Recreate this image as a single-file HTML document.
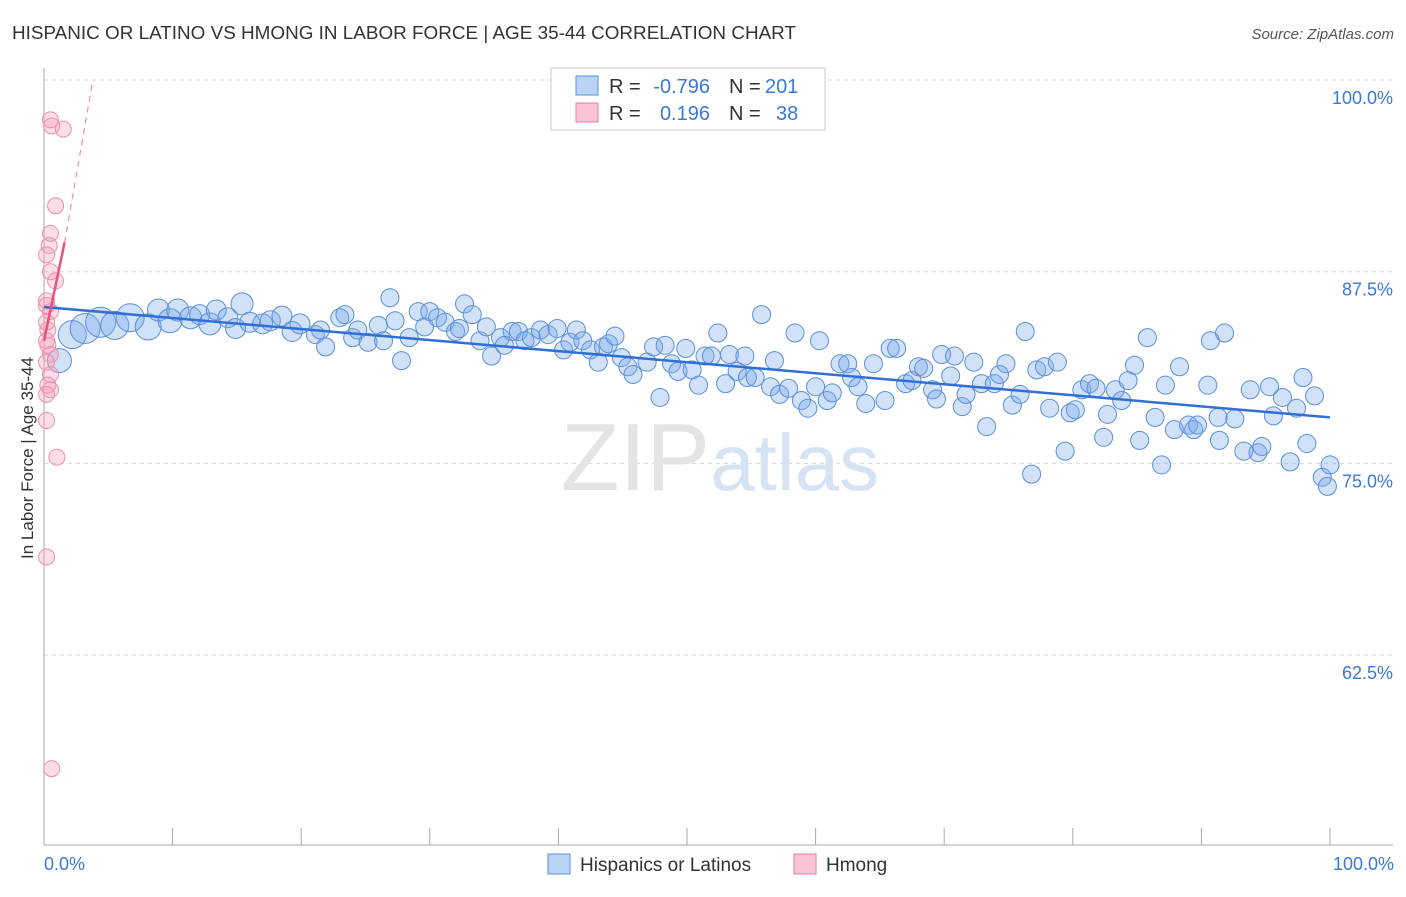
<!DOCTYPE html>
<html><head><meta charset="utf-8"><style>
body{margin:0;background:#fff;font-family:"Liberation Sans",sans-serif;}
svg text{font-family:"Liberation Sans",sans-serif;}
</style></head><body>
<svg width="1406" height="892" xmlns="http://www.w3.org/2000/svg">
<text x="12" y="39" font-size="18" fill="#333" textLength="784" lengthAdjust="spacingAndGlyphs">HISPANIC OR LATINO VS HMONG IN LABOR FORCE | AGE 35-44 CORRELATION CHART</text>
<text x="1394" y="39" font-size="15" fill="#555" text-anchor="end" font-style="italic">Source: ZipAtlas.com</text>
<g id="grid"></g>
<text x="720" y="490" font-size="96" text-anchor="middle" fill="#e4e4e4" font-family="Liberation Serif">ZIP<tspan fill="#d6e3f3" font-family="Liberation Sans" font-size="80">atlas</tspan></text>
<g id="marks"></g>
<text transform="translate(33,458) rotate(-90)" font-size="17" fill="#333" text-anchor="middle">In Labor Force | Age 35-44</text>
<text x="44" y="870" font-size="18" fill="#3a78d6">0.0%</text>
<text x="1394" y="870" font-size="18" fill="#3a78d6" text-anchor="end">100.0%</text>
<g>
<rect x="551" y="68" width="274" height="62" fill="#fff" stroke="#ccc"/>
<rect x="576" y="76" width="22" height="19" fill="#b9d3f5" stroke="#5a8fdb"/>
<text x="609" y="93" font-size="20" fill="#333">R =</text>
<text x="710" y="93" font-size="20" fill="#3a78d6" text-anchor="end">-0.796</text>
<text x="729" y="93" font-size="20" fill="#333">N =</text>
<text x="765" y="93" font-size="20" fill="#3a78d6">201</text>
<rect x="576" y="103" width="22" height="19" fill="#f9c4d2" stroke="#e77fa0"/>
<text x="609" y="120" font-size="20" fill="#333">R =</text>
<text x="710" y="120" font-size="20" fill="#3a78d6" text-anchor="end">0.196</text>
<text x="729" y="120" font-size="20" fill="#333">N =</text>
<text x="776" y="120" font-size="20" fill="#3a78d6">38</text>
</g>
<g>
<rect x="548" y="854" width="22" height="20" fill="#b9d3f5" stroke="#5a8fdb"/>
<text x="580" y="871" font-size="19" fill="#333">Hispanics or Latinos</text>
<rect x="794" y="854" width="22" height="20" fill="#f9c4d2" stroke="#e77fa0"/>
<text x="826" y="871" font-size="19" fill="#333">Hmong</text>
</g>
</svg>
<script>
const yTicks=[100,87.5,75,62.5];
const yTickLabels=["100.0%","87.5%","75.0%","62.5%"];
const xTicks=[0,10,20,30,40,50,60,70,80,90,100];
const blueX=[1.2,2.2,3.2,4.4,5.5,6.7,8.1,8.9,9.8,10.4,11.4,12.1,12.9,13.4,14.3,14.9,15.4,16.0,17.0,17.6,18.5,19.3,19.9,21.1,21.5,21.9,23.0,23.4,24.0,24.4,25.2,26.0,26.4,26.9,27.3,27.8,28.4,29.1,29.6,30.0,30.6,31.2,32.0,32.3,32.7,33.3,33.9,34.4,34.8,35.5,35.8,36.4,36.9,37.4,37.9,38.6,39.2,39.9,40.4,40.9,41.4,41.9,42.5,43.1,43.5,43.9,44.4,44.9,45.4,45.8,46.9,47.4,47.9,48.3,48.8,49.3,49.9,50.4,50.9,51.4,51.9,52.4,53.0,53.3,53.9,54.5,54.7,55.3,55.8,56.5,56.8,57.2,57.9,58.4,58.9,59.4,60.0,60.3,60.9,61.3,61.9,62.5,62.8,63.3,63.9,64.5,65.4,65.8,66.3,67.0,67.5,68.0,68.4,69.1,69.4,69.8,70.5,70.8,71.4,71.7,72.3,72.9,73.3,73.9,74.3,74.8,75.3,75.9,76.3,76.8,77.2,77.8,78.2,78.8,79.4,79.8,80.2,80.7,81.3,81.8,82.4,82.7,83.3,83.8,84.3,84.8,85.2,85.8,86.4,86.9,87.2,87.9,88.3,89.0,89.4,89.7,90.5,90.7,91.3,91.4,91.8,92.6,93.3,93.8,94.4,94.7,95.3,95.6,96.3,96.9,97.4,97.9,98.2,98.8,99.4,99.8,100.0];
const blueY=[81.7,83.4,83.8,84.2,84.0,84.5,83.9,85.0,84.3,85.0,84.5,84.7,84.1,85.0,84.5,83.8,85.4,84.2,84.1,84.3,84.6,83.6,84.1,83.4,83.7,82.6,84.5,84.7,83.2,83.7,82.9,84.0,83.0,85.8,84.3,81.7,83.2,84.9,83.9,84.9,84.5,84.2,83.6,83.8,85.4,84.7,83.0,83.9,82.0,83.2,82.7,83.6,83.6,83.0,83.2,83.7,83.4,83.8,82.4,82.9,83.7,83.0,82.4,81.6,82.6,82.8,83.3,81.9,81.3,80.8,81.6,82.6,79.3,82.7,81.5,81.0,82.5,81.1,80.1,82.0,82.0,83.5,80.2,82.1,81.0,82.0,80.6,80.6,84.7,80.0,81.7,79.5,79.9,83.5,79.1,78.6,80.0,83.0,79.1,79.6,81.5,81.5,80.6,80.0,78.9,81.5,79.1,82.5,82.5,80.2,80.4,81.3,81.2,79.8,79.2,82.1,80.7,82.0,78.7,79.5,81.6,80.2,77.4,80.2,80.8,81.5,78.8,79.5,83.6,74.3,81.1,81.3,78.6,81.6,75.8,78.3,78.5,79.8,80.2,79.9,76.7,78.2,79.8,79.1,80.4,81.4,76.5,83.2,78.0,74.9,80.1,77.2,81.3,77.5,77.2,77.5,80.1,83.0,78.0,76.5,83.5,77.9,75.8,79.8,75.7,76.1,80.0,78.1,79.3,75.1,78.6,80.6,76.3,79.4,74.1,73.5,74.9];
const blueWeight=[12,14,15,15,14,14,13,11,12,11,11,10,11,10,10,10,11,10,10,10,10,10,10,9];
const pinkX=[0.6,1.5,0.9,0.5,0.4,0.2,0.5,0.9,0.2,0.5,0.2,0.3,0.2,0.5,0.2,0.5,0.3,0.5,0.2,0.2,1.0,0.2,0.6,0.3,0.2,0.5];
const pinkY=[97.0,96.8,91.8,90.0,89.2,88.6,87.5,86.9,85.6,84.9,84.2,83.7,83.0,82.1,81.6,80.8,80.1,79.8,79.5,77.8,75.4,68.9,55.1,82.7,85.3,97.4];
const blueTrend=[[0,85.2],[100,78.0]];
const pinkTrendSolid=[[0,83.0],[1.6,89.4]];
const pinkTrendDash=[[1.6,89.4],[3.8,100]];

const X0=44,X1=1330,YTOP=80,PX=191.7/12.5;
const sx=v=>X0+(X1-X0)*v/100;
const sy=v=>YTOP+(100-v)*PX;
const NS="http://www.w3.org/2000/svg";
function mk(tag,attrs,parent){const e=document.createElementNS(NS,tag);for(const k in attrs)e.setAttribute(k,attrs[k]);parent.appendChild(e);return e;}
const grid=document.getElementById('grid'),marks=document.getElementById('marks');
yTicks.forEach((t,i)=>{
  const l=mk('line',{x1:44,x2:1393,y1:sy(t),y2:sy(t),stroke:'#d8d8d8','stroke-dasharray':'4,4'},grid);
  
  
  const tx=mk('text',{x:1393,y:sy(t)+24,'font-size':18,fill:'#3a78d6','text-anchor':'end'},grid);
  tx.textContent=yTickLabels[i];
  
  
});
const ya=mk('line',{x1:44,x2:44,y1:68,y2:845,stroke:'#aaa'},grid);


const xa=mk('line',{x1:44,x2:1393,y1:845,y2:845,stroke:'#aaa'},grid);


xTicks.forEach(t=>{
  const l=mk('line',{x1:sx(t),x2:sx(t),y1:828,y2:845,stroke:'#aaa'},grid);
  
  
});
blueX.forEach((x,i)=>{
  const r=blueWeight[i]||9;
  const c=mk('circle',{cx:sx(x),cy:sy(blueY[i]),r:r,fill:'rgba(120,170,235,0.35)',stroke:'#5a8fdb','stroke-width':1},marks);
  
  
});
pinkX.forEach((x,i)=>{
  const c=mk('circle',{cx:sx(x),cy:sy(pinkY[i]),r:8,fill:'rgba(245,160,185,0.35)',stroke:'#ec8fab','stroke-width':1},marks);
  
  
});
const bt=mk('line',{x1:sx(blueTrend[0][0]),y1:sy(blueTrend[0][1]),x2:sx(blueTrend[1][0]),y2:sy(blueTrend[1][1]),stroke:'#2f6fd6','stroke-width':2.5},marks);


const pt=mk('line',{x1:sx(pinkTrendSolid[0][0]),y1:sy(pinkTrendSolid[0][1]),x2:sx(pinkTrendSolid[1][0]),y2:sy(pinkTrendSolid[1][1]),stroke:'#e8517e','stroke-width':2.5},marks);


const pd=mk('line',{x1:sx(pinkTrendDash[0][0]),y1:sy(pinkTrendDash[0][1]),x2:sx(pinkTrendDash[1][0]),y2:sy(pinkTrendDash[1][1]),stroke:'#ec8fab','stroke-width':1.2,'stroke-dasharray':'6,5'},marks);


</script>
</body></html>
